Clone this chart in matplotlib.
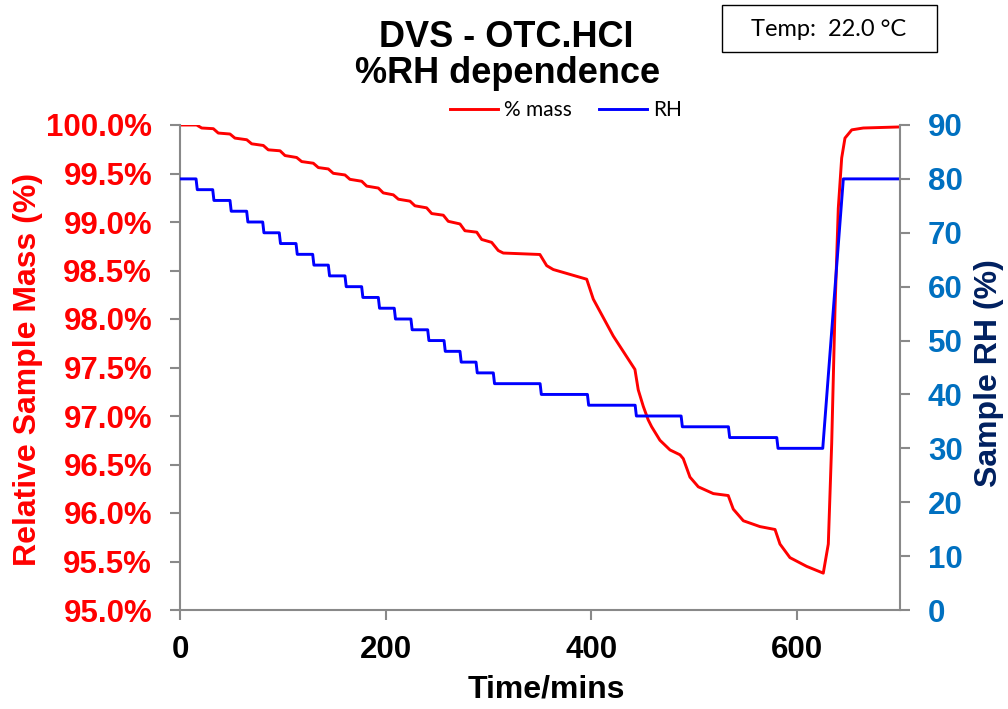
import numpy as np
import matplotlib
matplotlib.use('Agg')
import matplotlib.pyplot as plt
from matplotlib.patches import Rectangle

plt.rcParams['font.family'] = ['Liberation Sans', 'DejaVu Sans']

# data
mass_time = [0, 16.2, 21.1, 32.4, 37.2, 48.6, 53.4, 64.9, 69.7, 81.0, 85.8, 97.3, 102.1,
             113.4, 118.3, 129.6, 134.5, 144.2, 149.0, 160.4, 165.2, 176.7, 181.5, 192.8,
             197.6, 207.4, 212.3, 223.6, 228.4, 239.8, 244.7, 256.0, 260.8, 272.2, 277.0,
             288.5, 293.3, 303.0, 309.4, 314.3, 349.9, 356.5, 362.9, 395.4, 401.8,
             421.2, 442.3, 445.5, 450.4, 455.2, 458.5, 466.6, 476.4, 486.1, 489.3,
             495.8, 503.9, 518.5, 533.0, 537.9, 547.7, 563.8, 578.5, 583.3, 593.0, 609.2,
             625.4, 630.3, 633.6, 636.8, 640.0, 643.3, 646.5, 653.1, 664.3, 700]
mass_pct = [100.0, 100.0, 99.969, 99.962, 99.917, 99.907, 99.865, 99.848, 99.806, 99.789,
            99.744, 99.734, 99.685, 99.665, 99.623, 99.606, 99.561, 99.547, 99.502, 99.485,
            99.44, 99.42, 99.37, 99.35, 99.30, 99.28, 99.235, 99.215, 99.167, 99.146, 99.087,
            99.07, 99.007, 98.98, 98.91, 98.895, 98.82, 98.79, 98.706, 98.68, 98.665, 98.55,
            98.51, 98.41, 98.205, 97.825, 97.48, 97.27, 97.1, 96.96, 96.89,
            96.75, 96.65, 96.6, 96.56, 96.37, 96.27, 96.2, 96.18, 96.04, 95.92, 95.86, 95.83,
            95.68, 95.54, 95.45, 95.38, 95.68, 96.72, 98.10, 99.14, 99.66, 99.865, 99.95,
            99.969, 99.98]

rh_change_time = [15.6, 31.8, 48.6, 64.8, 80.4, 96.5, 112.8, 129.0, 144.2, 160.4, 176.6,
                  192.8, 208.3, 224.5, 240.8, 256.7, 272.2, 287.8, 304.6, 350.1, 396.1,
                  442.5, 487.2, 533.2, 580.2, 624.9]
rh_level = [80, 78, 76, 74, 72, 70, 68, 66, 64, 62, 60, 58, 56, 54, 52, 50, 48, 46, 44, 42,
            40, 38, 36, 34, 32, 30, 80]
rh_rise_end = 644.9
t_end = 700

# RH path: hold each level, short ramp at each change
rh_t = [0]
rh_v = [rh_level[0]]
for i, t in enumerate(rh_change_time):
    t2 = rh_rise_end if i == len(rh_change_time) - 1 else t + 1.2
    rh_t += [t, t2]
    rh_v += [rh_level[i], rh_level[i + 1]]
rh_t.append(t_end)
rh_v.append(rh_level[-1])

grey = '#898989'
fig = plt.figure(figsize=(10.08, 7.09), dpi=100)
ax = fig.add_axes([180 / 1008, 1 - 610 / 709, 720 / 1008, 485 / 709])
ax2 = ax.twinx()

l1, = ax.plot(mass_time, mass_pct, color='#FF0000', lw=2.1, label='% mass')
l2, = ax2.plot(rh_t, rh_v, color='#0000FF', lw=2.1, label='RH')

ax.set_xlim(0, 700)
ax.set_ylim(95, 100)
ax2.set_ylim(0, 90)

yt = np.arange(95, 100.01, 0.5)
ax.set_yticks(yt, labels=[f'{v:.1f}%' for v in yt], fontweight='bold', fontsize=22.5)
ax.set_xticks([0, 200, 400, 600], labels=['0', '200', '400', '600'], fontweight='bold', fontsize=22.5)
rt = list(range(0, 91, 10))
ax2.set_yticks(rt, labels=[str(v) for v in rt], fontweight='bold', fontsize=22.5)

for a in (ax, ax2):
    for s in a.spines.values():
        s.set_color(grey)
        s.set_linewidth(1.5)
    a.spines['top'].set_visible(False)
ax.spines['right'].set_visible(False)
ax2.spines['left'].set_visible(False)
ax2.spines['bottom'].set_visible(False)

ax.tick_params(axis='y', direction='out', length=7, width=1.5, color=grey, labelcolor='#FF0000', pad=13)
ax.tick_params(axis='x', direction='out', length=7, width=1.5, color=grey, labelcolor='black', pad=11)
ax2.tick_params(axis='y', direction='out', length=7, width=1.5, color=grey, labelcolor='#0070C0', pad=13)

# axis titles
fig.text(28 / 1008, 1 - 369 / 709, 'Relative Sample Mass (%)', rotation=90, ha='center', va='center',
         color='#FF0000', fontsize=23, fontweight='bold')
fig.text(989 / 1008, 1 - 373 / 709, 'Sample RH (%)', rotation=90, ha='center', va='center',
         color='#002060', fontsize=23, fontweight='bold')
fig.text(546 / 1008, 1 - 697 / 709, 'Time/mins', ha='center', va='baseline',
         fontsize=23, fontweight='bold')

# title
fig.text(506 / 1008, 1 - 47 / 709, 'DVS - OTC.HCI', ha='center', va='baseline',
         fontsize=26, fontweight='bold')
fig.text(508 / 1008, 1 - 83 / 709, '%RH dependence', ha='center', va='baseline',
         fontsize=26, fontweight='bold')

# legend
fig.legend([l1, l2], ['% mass', 'RH'], loc='center', bbox_to_anchor=(566 / 1008, 1 - 110 / 709),
           ncol=2, frameon=False, prop={'family': 'Lato', 'size': 15},
           handlelength=2.3, handletextpad=0.3, columnspacing=1.3)

# temperature box
fig.patches.append(Rectangle((722 / 1008, 1 - 52 / 709), 215 / 1008, 47 / 709,
                             transform=fig.transFigure, fill=False, edgecolor='black', lw=1))
fig.text(829 / 1008, 1 - 30 / 709, 'Temp:  22.0 °C', ha='center', va='center',
         fontsize=17, family='Lato')

fig.savefig('out.png', dpi=100)
